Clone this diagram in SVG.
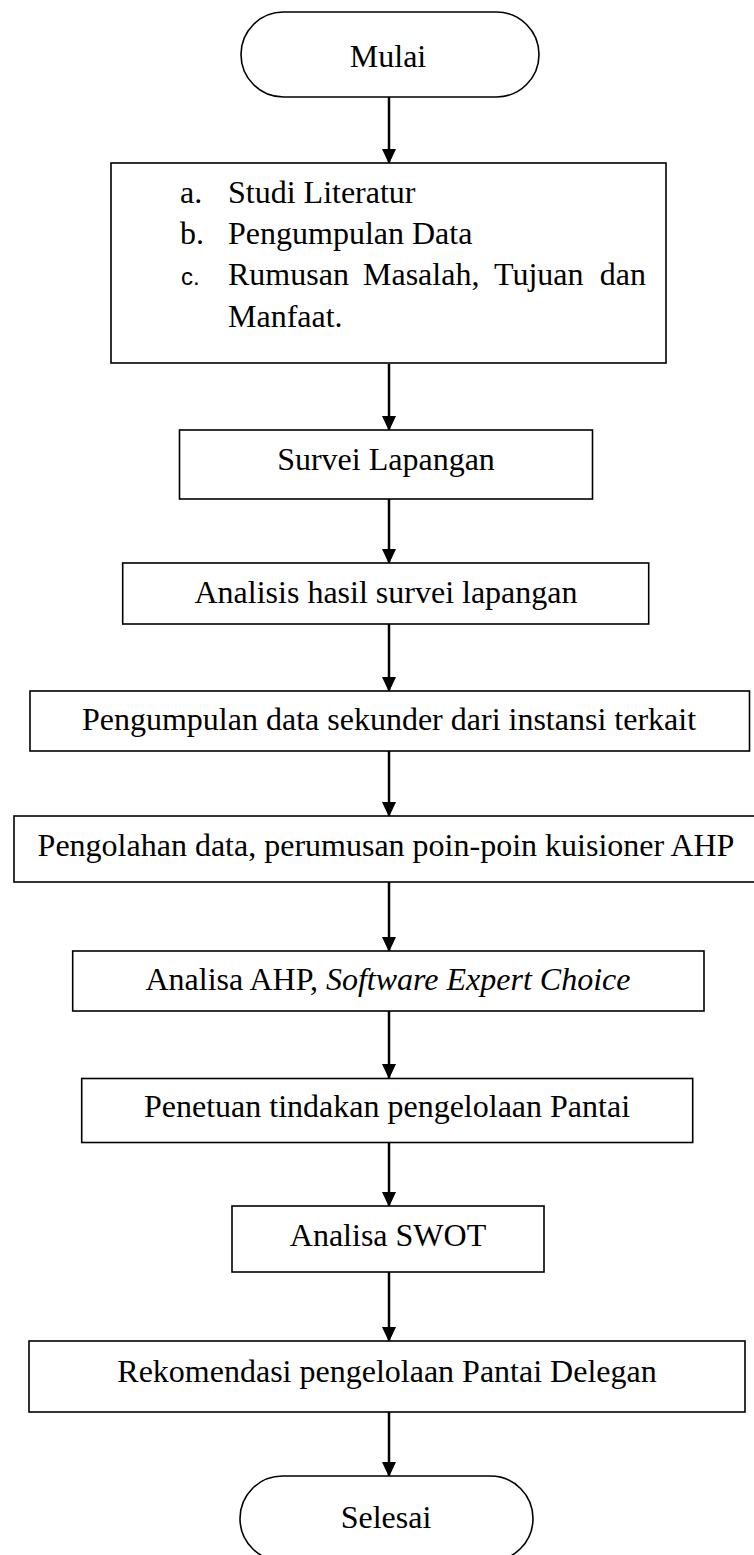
<svg xmlns="http://www.w3.org/2000/svg" width="754" height="1555" viewBox="0 0 754 1555">
<style>
.shape{fill:#fff;stroke:#000;stroke-width:1.6}
.t{font-family:"Liberation Serif","Times New Roman",serif;font-size:32px;fill:#000}
.c{text-anchor:middle}
.conn{stroke:#000;stroke-width:2.5;fill:none}
</style>
<defs>
<marker id="ah" markerUnits="userSpaceOnUse" markerWidth="16" markerHeight="16" refX="14" refY="7" orient="auto" viewBox="0 0 16 14">
<path d="M0,0 L15,7 L0,14 Z" fill="#000"/>
</marker>
</defs>
<rect width="754" height="1555" fill="#fff"/>
<g id="connectors">
<path class="conn" d="M389,97 V163" marker-end="url(#ah)"/>
<path class="conn" d="M389,364 V430" marker-end="url(#ah)"/>
<path class="conn" d="M389,499 V563" marker-end="url(#ah)"/>
<path class="conn" d="M389,624 V691" marker-end="url(#ah)"/>
<path class="conn" d="M389,751 V816" marker-end="url(#ah)"/>
<path class="conn" d="M389,882 V951" marker-end="url(#ah)"/>
<path class="conn" d="M389,1011 V1078" marker-end="url(#ah)"/>
<path class="conn" d="M389,1142 V1206" marker-end="url(#ah)"/>
<path class="conn" d="M389,1272 V1341" marker-end="url(#ah)"/>
<path class="conn" d="M389,1412 V1476" marker-end="url(#ah)"/>
</g>
<g id="mulai">
<rect class="shape" x="241" y="12" width="298" height="85" rx="42.5" ry="42.5"/>
<text class="t c" x="388" y="67">Mulai</text>
</g>
<g id="tahap-awal">
<rect class="shape" x="111" y="163" width="555" height="200"/>
<text class="t" x="180" y="203">a.</text>
<text class="t" x="228" y="203">Studi Literatur</text>
<text class="t" x="180" y="244">b.</text>
<text class="t" x="228" y="244">Pengumpulan Data</text>
<text x="181" y="285" style="font-family:'Liberation Sans',Arial,sans-serif;font-size:24px">c.</text>
<text class="t" y="285"><tspan x="228">Rumusan</tspan><tspan x="363">Masalah,</tspan><tspan x="494">Tujuan</tspan><tspan x="646" text-anchor="end">dan</tspan></text>
<text class="t" x="228" y="327">Manfaat.</text>
</g>
<g id="survei">
<rect class="shape" x="179.5" y="430" width="413" height="69"/>
<text class="t c" x="386" y="470">Survei Lapangan</text>
</g>
<g id="analisis">
<rect class="shape" x="122.7" y="563" width="526" height="61"/>
<text class="t c" x="386" y="603">Analisis hasil survei lapangan</text>
</g>
<g id="pengumpulan-sekunder">
<rect class="shape" x="30" y="691" width="719.5" height="60"/>
<text class="t c" x="389" y="730">Pengumpulan data sekunder dari instansi terkait</text>
</g>
<g id="pengolahan">
<rect class="shape" x="14" y="816" width="752" height="66"/>
<text class="t c" x="386" y="856">Pengolahan data, perumusan poin-poin kuisioner AHP</text>
</g>
<g id="ahp">
<rect class="shape" x="72.7" y="951" width="631.3" height="60"/>
<text class="t c" x="388" y="990">Analisa AHP, <tspan font-style="italic">Software Expert Choice</tspan></text>
</g>
<g id="penetuan">
<rect class="shape" x="81.7" y="1078.5" width="611" height="64"/>
<text class="t c" x="387" y="1117">Penetuan tindakan pengelolaan Pantai</text>
</g>
<g id="swot">
<rect class="shape" x="232" y="1206" width="312" height="66"/>
<text class="t c" x="388" y="1246">Analisa SWOT</text>
</g>
<g id="rekomendasi">
<rect class="shape" x="29" y="1341" width="716" height="71"/>
<text class="t c" x="387" y="1382">Rekomendasi pengelolaan Pantai Delegan</text>
</g>
<g id="selesai">
<rect class="shape" x="240" y="1476" width="293" height="85" rx="42.5" ry="42.5"/>
<text class="t c" x="386" y="1528">Selesai</text>
</g>
</svg>
